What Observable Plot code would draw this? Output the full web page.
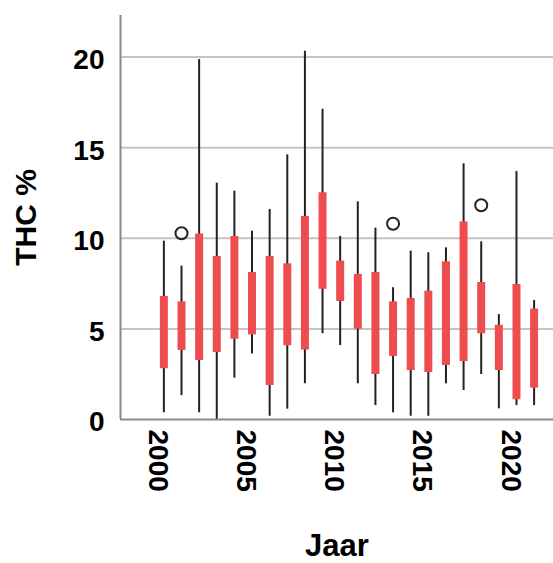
<!DOCTYPE html>
<html>
<head>
<meta charset="utf-8">
<script src="https://cdn.jsdelivr.net/npm/d3@7"></script>
<script src="https://cdn.jsdelivr.net/npm/@observablehq/plot@0.6"></script>
<style>
  html, body { margin: 0; padding: 0; background: #fff; }
</style>
</head>
<body>
<div id="chart"></div>
<script>
const years       = [2000,2001,2002,2003,2004,2005,2006,2007,2008,2009,2010,2011,2012,2013,2014,2015,2016,2017,2018,2019,2020,2021];
const whiskerLow  = [0.37,1.32,0.37,0.00,2.28,3.62,0.18,0.57,1.97,4.73,4.08,1.97,0.77,0.37,0.18,0.18,1.97,1.60,2.48,0.59,0.77,0.77];
const q1          = [2.80,3.81,3.26,3.70,4.43,4.67,1.88,4.07,3.84,7.19,6.51,4.98,2.48,3.48,2.70,2.59,2.98,3.20,4.73,2.70,1.09,1.73];
const q3          = [6.79,6.49,10.24,8.99,10.10,8.11,8.99,8.59,11.20,12.51,8.74,8.00,8.11,6.49,6.68,7.08,8.70,10.90,7.56,5.20,7.45,6.09];
const whiskerHigh = [9.84,8.46,19.86,13.04,12.60,10.39,11.59,14.60,20.32,17.12,10.10,12.01,10.56,7.27,9.29,9.20,9.47,14.11,9.80,5.79,13.68,6.57];
const outlierYears  = [2001, 2013, 2018];
const outlierValues = [10.28, 10.80, 11.82];
const yTicks = [0, 5, 10, 15, 20];
const xTicks = [2000, 2005, 2010, 2015, 2020];
const yTitle = "THC %";
const xTitle = "Jaar";

const boxes = years.map((year, i) => ({year, lo: whiskerLow[i], q1: q1[i], q3: q3[i], hi: whiskerHigh[i]}));
const outliers = outlierYears.map((year, i) => ({year, value: outlierValues[i]}));

const xMin = 1997.54, xMax = 2022.1;

const chart = Plot.plot({
  width: 553,
  height: 563,
  marginLeft: 120,
  marginRight: 0,
  marginTop: 15,
  marginBottom: 144,
  style: {fontFamily: "'Liberation Sans', Arial, sans-serif", fontSize: "28px", fontWeight: "bold", color: "#000", background: "#fff"},
  x: {type: "linear", domain: [xMin, xMax]},
  y: {domain: [0, 22.29]},
  marks: [
    Plot.ruleY(yTicks.filter(d => d > 0), {stroke: "#c4c4c4", strokeWidth: 2, strokeOpacity: 1}),
    Plot.ruleX(boxes, {x: "year", y1: "lo", y2: "hi", stroke: "#222", strokeWidth: 2}),
    Plot.ruleX(boxes, {x: "year", y1: "q1", y2: "q3", stroke: "#ee4c4f", strokeWidth: 8, strokeLinecap: "butt"}),
    Plot.dot(outliers, {x: "year", y: "value", r: 6, stroke: "#222", strokeWidth: 2, fill: "none"}),
    Plot.ruleY([0], {stroke: "#8a8a8a", strokeWidth: 2}),
    Plot.ruleX([xMin], {y1: 0, y2: 22.29, stroke: "#8a8a8a", strokeWidth: 2}),
    Plot.axisY({ticks: yTicks, tickSize: 0, tickPadding: 16, dy: 3, label: null, fontSize: 28}),
    Plot.axisX({ticks: xTicks, tickSize: 0, tickPadding: 10, tickRotate: 90, dx: -6, tickFormat: d => String(d), label: null, fontSize: 28}),
    Plot.text([yTitle], {frameAnchor: "left", textAnchor: "middle", rotate: -90, dx: -94, fontSize: 30, fill: "#000"}),
    Plot.text([xTitle], {frameAnchor: "bottom", dy: 136, fontSize: 31, fill: "#000"})
  ]
});
document.getElementById("chart").appendChild(chart);
</script>
</body>
</html>
